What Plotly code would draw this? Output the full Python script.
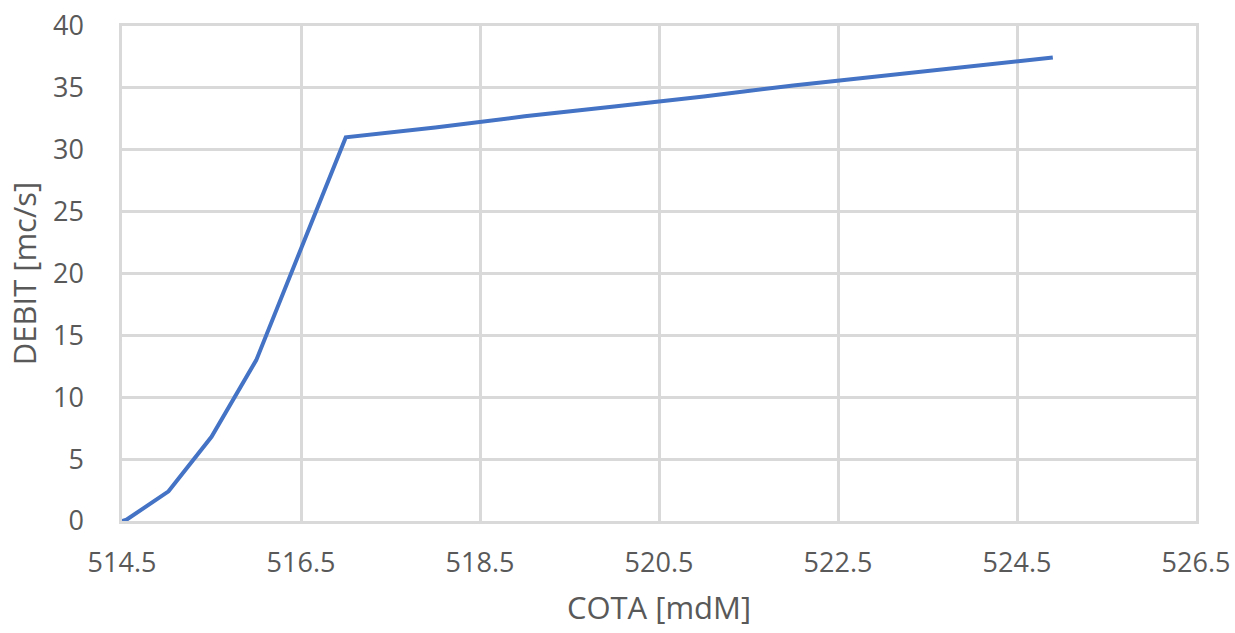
import plotly.graph_objects as go

# Rating curve: elevation (COTA) vs discharge (DEBIT)
cota = [514.5, 514.55, 515.02, 515.5, 516.0, 517.0, 518.0, 519.0, 520.0, 521.0, 522.0, 523.0, 524.0, 524.9]
debit = [0.0, 0.1, 2.4, 6.8, 13.0, 31.0, 31.8, 32.7, 33.5, 34.3, 35.2, 36.0, 36.8, 37.45]

x_ticks = [514.5, 516.5, 518.5, 520.5, 522.5, 524.5, 526.5]
y_ticks = [0, 5, 10, 15, 20, 25, 30, 35, 40]

font_family = "'Open Sans', Lato, sans-serif"
grid_color = "#d9d9d9"
text_color = "#595959"

fig = go.Figure()
fig.add_trace(go.Scatter(
    x=cota, y=debit, mode="lines",
    line=dict(color="#4472c4", width=4),
    showlegend=False,
))

fig.update_layout(
    width=1235, height=633,
    margin=dict(l=122, r=39, t=26, b=112, autoexpand=False),
    paper_bgcolor="white", plot_bgcolor="white",
    font=dict(family=font_family, color=text_color, size=27),
)

fig.update_xaxes(
    range=[514.5, 526.5], tickvals=x_ticks,
    ticktext=[f"{v:.1f}" for v in x_ticks],
    showgrid=True, gridcolor=grid_color, gridwidth=2.5,
    showline=True, linecolor=grid_color, linewidth=2.5, mirror=True,
    zeroline=False, ticks="", ticklabelstandoff=16, automargin=False,
    tickfont=dict(size=27, color=text_color),
    title=dict(text="COTA [mdM]", font=dict(size=31, color=text_color), standoff=19),
)
fig.update_yaxes(
    range=[0, 40], tickvals=y_ticks,
    showgrid=True, gridcolor=grid_color, gridwidth=2.5,
    showline=True, linecolor=grid_color, linewidth=2.5, mirror=True,
    zeroline=False, ticks="", ticklabelstandoff=30, automargin=False,
    tickfont=dict(size=27, color=text_color),
    title=dict(text="DEBIT [mc/s]", font=dict(size=31, color=text_color), standoff=8),
)

fig.write_html("out.html")
